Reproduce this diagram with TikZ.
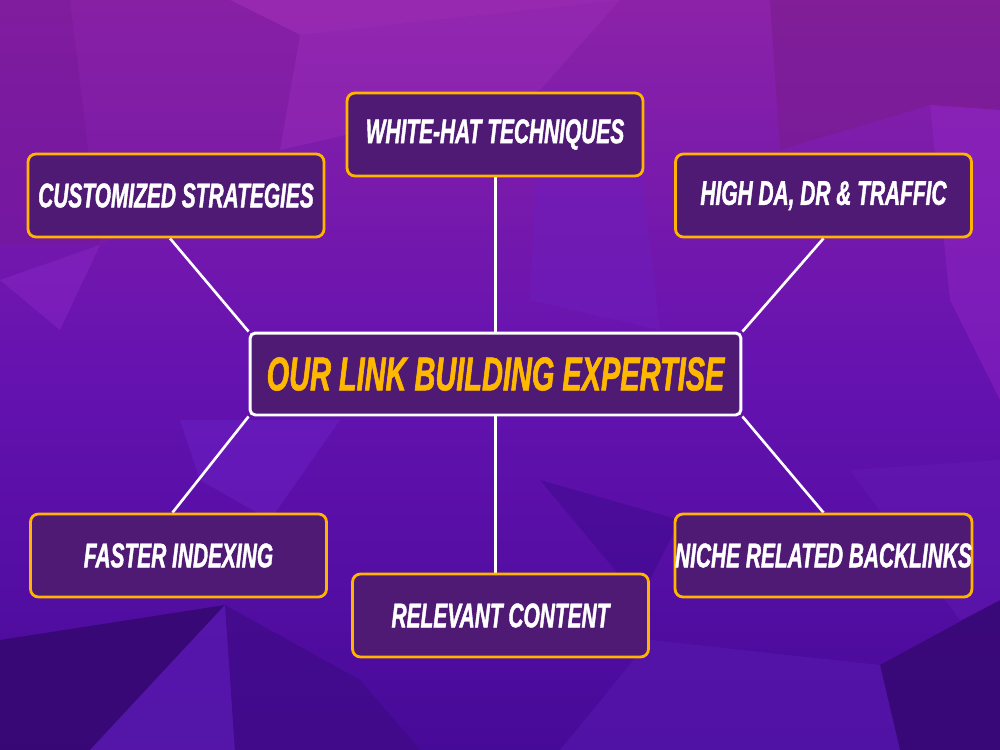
\documentclass[tikz,border=0pt]{standalone}
\usepackage{fontspec}
\newfontfamily\anton[FakeStretch=0.61,FakeBold=1.2]{Liberation Sans}
\usetikzlibrary{calc}
\pgfdeclarelayer{bg}
\pgfdeclarelayer{lines}
\pgfsetlayers{bg,lines,main}
\definecolor{boxfill}{HTML}{4E1A74}
\definecolor{gold}{HTML}{FFB400}
\definecolor{goldtxt}{HTML}{FFB800}
\definecolor{bgtop}{HTML}{8C22A8}
\definecolor{bgmid}{HTML}{6512B0}
\definecolor{bgbot}{HTML}{460A98}
\tikzset{
  item/.style={draw=gold, line width=1.6pt, fill=boxfill, rounded corners=4.5pt,
    minimum width=5.92cm, minimum height=1.66cm, inner sep=0pt, text=white,
    font=\anton\bfseries\itshape\fontsize{19.5}{21}\selectfont},
  hub/.style={draw=white, line width=1.7pt, fill=boxfill, rounded corners=3pt,
    minimum width=9.82cm, minimum height=1.64cm, inner sep=0pt, text=goldtxt,
    font=\anton\bfseries\itshape\fontsize{27}{29}\selectfont},
  link/.style={draw=white, line width=1.5pt},
  poly/.style={draw=none}
}
\begin{document}
\begin{tikzpicture}[x=0.02cm,y=-0.02cm]
\useasboundingbox (0,0) rectangle (1000,750);
\begin{pgfonlayer}{bg}
  \shade[top color=bgtop, bottom color=bgbot, middle color=bgmid] (0,0) rectangle (1000,750);
  % low-poly facets
  \fill[poly, fill={rgb,255:red,160;green,48;blue,184}, opacity=0.55] (230,0) -- (300,35) -- (620,0) -- cycle;
  \fill[poly, fill={rgb,255:red,155;green,45;blue,185}, opacity=0.45] (300,35) -- (280,150) -- (540,90) -- (620,0) -- cycle;
  \fill[poly, fill={rgb,255:red,120;green,28;blue,140}, opacity=0.55] (770,0) -- (1000,0) -- (1000,110) -- (930,105) -- (780,150) -- cycle;
  \fill[poly, fill={rgb,255:red,118;green,24;blue,150}, opacity=0.5] (0,0) -- (70,0) -- (100,245) -- (0,245) -- cycle;
  \fill[poly, fill={rgb,255:red,130;green,30;blue,160}, opacity=0.4] (70,0) -- (230,0) -- (300,35) -- (280,150) -- (100,245) -- cycle;
  \fill[poly, fill={rgb,255:red,140;green,40;blue,200}, opacity=0.45] (0,280) -- (100,245) -- (60,330) -- cycle;
  \fill[poly, fill={rgb,255:red,150;green,40;blue,200}, opacity=0.4] (930,105) -- (1000,110) -- (1000,400) -- (950,300) -- cycle;
  \fill[poly, fill={rgb,255:red,110;green,30;blue,190}, opacity=0.45] (540,90) -- (640,160) -- (660,330) -- (530,300) -- cycle;
  \fill[poly, fill={rgb,255:red,110;green,35;blue,200}, opacity=0.45] (180,420) -- (340,420) -- (270,520) -- (200,480) -- cycle;
  \fill[poly, fill={rgb,255:red,53;green,8;blue,112}, opacity=0.85] (0,640) -- (225,605) -- (90,750) -- (0,750) -- cycle;
  \fill[poly, fill={rgb,255:red,90;green,26;blue,176}, opacity=0.7] (225,605) -- (235,750) -- (90,750) -- cycle;
  \fill[poly, fill={rgb,255:red,60;green,10;blue,130}, opacity=0.6] (225,605) -- (360,680) -- (420,750) -- (235,750) -- cycle;
  \fill[poly, fill={rgb,255:red,53;green,8;blue,112}, opacity=0.8] (880,665) -- (1000,600) -- (1000,750) -- (900,750) -- cycle;
  \fill[poly, fill={rgb,255:red,90;green,26;blue,176}, opacity=0.5] (650,640) -- (880,665) -- (900,750) -- (560,750) -- cycle;
  \fill[poly, fill={rgb,255:red,100;green,28;blue,180}, opacity=0.45] (850,470) -- (1000,460) -- (1000,600) -- (960,620) -- cycle;
  \fill[poly, fill={rgb,255:red,60;green,10;blue,140}, opacity=0.5] (540,480) -- (680,520) -- (640,600) -- cycle;
\end{pgfonlayer}

\node[hub]  (ctr)  at (495.5,374)   {OUR LINK BUILDING EXPERTISE};
\node[item] (wh)   at (495,134.5)   {WHITE-HAT TECHNIQUES};
\node[item] (cust) at (176,195.5)   {CUSTOMIZED STRATEGIES};
\node[item] (hda)  at (823.5,195.5) {HIGH DA, DR \& TRAFFIC};
\node[item] (fast) at (178.5,555.5) {FASTER INDEXING};
\node[item] (rel)  at (500.5,615.5) {RELEVANT CONTENT};
\node[item] (nich) at (823.5,555.5) {NICHE RELATED BACKLINKS};

\begin{pgfonlayer}{lines}
  \draw[link] ([xshift=-0.12cm]cust.south) -- (ctr.north west);
  \draw[link] (ctr.north) -- (ctr.north |- wh.south);
  \draw[link] (hda.south) -- (ctr.north east);
  \draw[link] ([xshift=-0.12cm]fast.north) -- (ctr.south west);
  \draw[link] (ctr.south) -- (ctr.south |- rel.north);
  \draw[link] (nich.north) -- (ctr.south east);
\end{pgfonlayer}
\end{tikzpicture}
\end{document}
